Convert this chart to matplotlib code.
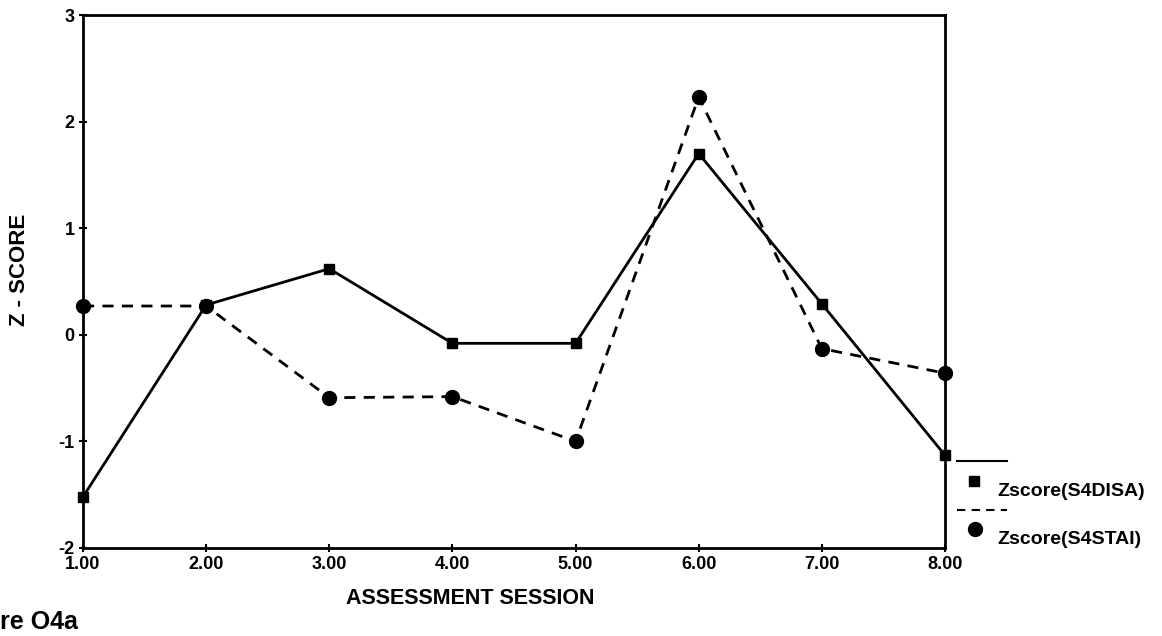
import matplotlib
matplotlib.use("Agg")
import matplotlib.pyplot as plt
from matplotlib.lines import Line2D

plt.rcParams['font.family'] = ['Liberation Sans', 'DejaVu Sans']
plt.rcParams['font.weight'] = 'bold'
plt.rcParams['axes.unicode_minus'] = False

sessions = [1, 2, 3, 4, 5, 6, 7, 8]
disa = [-1.52, 0.28, 0.62, -0.08, -0.08, 1.70, 0.29, -1.13]
stai = [0.27, 0.27, -0.59, -0.58, -1.00, 2.23, -0.13, -0.36]
xtick_labels = ["1.00", "2.00", "3.00", "4.00", "5.00", "6.00", "7.00", "8.00"]
yticks = [-2, -1, 0, 1, 2, 3]
series_names = ["Zscore(S4DISA)", "Zscore(S4STAI)"]

W, H = 1162, 636
fig = plt.figure(figsize=(W / 100, H / 100), dpi=100)
ax = fig.add_axes([83 / W, 1 - 548 / H, (945 - 83) / W, (548 - 15) / H])

ax.plot(sessions, disa, color='black', lw=2, ls='-', marker='s', ms=7, clip_on=False, zorder=3)
ax.plot(sessions, stai, color='black', lw=2, ls=(0, (4, 3)), marker='o', ms=10, clip_on=False, zorder=3)

ax.set_xlim(1, 8)
ax.set_ylim(-2, 3)
ax.set_xticks(sessions)
ax.set_xticklabels(xtick_labels)
ax.set_yticks(yticks)
ax.tick_params(direction='inout', length=6, width=1.5, labelsize=13, pad=3)
for lab in ax.get_xticklabels() + ax.get_yticklabels():
    lab.set_fontweight('bold')
for s in ax.spines.values():
    s.set_linewidth(2)

fig.text(20 / W, 1 - 270 / H, "Z - SCORE", fontsize=16, fontweight='bold',
         rotation=90, ha='center', va='center')
fig.text(470 / W, 1 - 598 / H, "ASSESSMENT SESSION", fontsize=15.5, fontweight='bold',
         ha='center', va='center')
fig.text(0 / W, 1 - 622 / H, "re O4a", fontsize=18, fontweight='bold',
         ha='left', va='center')

# legend (drawn manually to mimic layout)
fig.add_artist(Line2D([957 / W, 1007 / W], [1 - 461 / H, 1 - 461 / H], color='black', lw=1.5,
                      transform=fig.transFigure))
fig.add_artist(Line2D([974 / W], [1 - 481 / H], color='black', marker='s', ms=7, ls='none',
                      transform=fig.transFigure))
fig.text(997 / W, 1 - 491 / H, series_names[0], fontsize=14, fontweight='bold', va='center', ha='left')
fig.add_artist(Line2D([957 / W, 1007 / W], [1 - 510 / H, 1 - 510 / H], color='black', lw=1.5,
                      ls=(0, (4, 3)), transform=fig.transFigure))
fig.add_artist(Line2D([975 / W], [1 - 529 / H], color='black', marker='o', ms=10, ls='none',
                      transform=fig.transFigure))
fig.text(997 / W, 1 - 540 / H, series_names[1], fontsize=14, fontweight='bold', va='center', ha='left')

fig.savefig("out.png", dpi=100)
